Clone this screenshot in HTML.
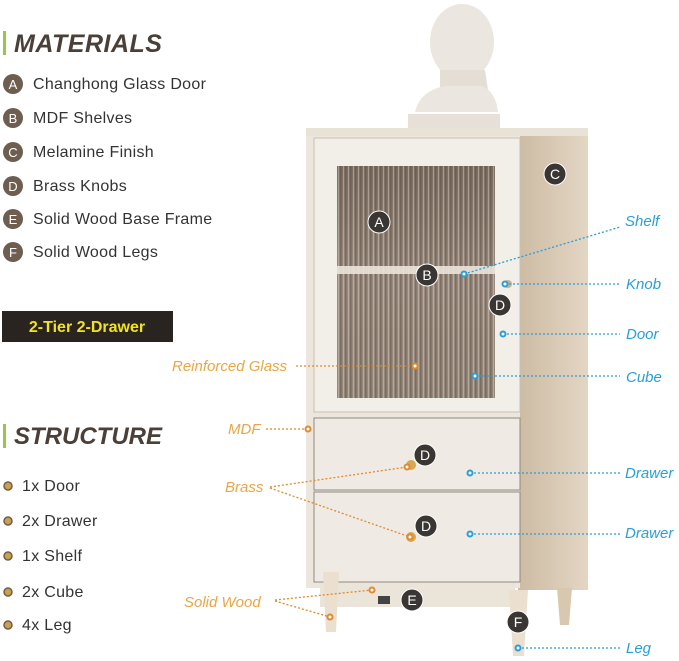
<!DOCTYPE html>
<html><head><meta charset="utf-8"><style>
body{margin:0;background:#fff;}
svg{display:block;font-family:"Liberation Sans","DejaVu Sans",sans-serif;}
</style></head><body>
<svg width="679" height="661" viewBox="0 0 679 661" xmlns="http://www.w3.org/2000/svg">
<defs>
<linearGradient id="side" x1="0" x2="1"><stop offset="0" stop-color="#cdbba3"/><stop offset="1" stop-color="#e3d6c4"/></linearGradient>
<linearGradient id="glass" x1="0" x2="0" y1="0" y2="1"><stop offset="0" stop-color="#7d6e62"/><stop offset="0.5" stop-color="#9a8b7e"/><stop offset="1" stop-color="#958779"/></linearGradient>
<pattern id="flute" width="5" height="10" patternUnits="userSpaceOnUse"><rect x="0" width="1.6" height="10" fill="#4f443c" opacity="0.4"/><rect x="3" width="1" height="10" fill="#e0d8cd" opacity="0.4"/></pattern>
</defs>
<rect x="3" y="31" width="3" height="24" fill="#9cc447"/>
<text x="14" y="52" font-size="25" font-weight="bold" font-style="italic" fill="#4a4038" letter-spacing="0.5">MATERIALS</text>
<g fill="#6e5e50"><circle cx="13" cy="84" r="10"/><circle cx="13" cy="118" r="10"/><circle cx="13" cy="152" r="10"/><circle cx="13" cy="186" r="10"/><circle cx="13" cy="219" r="10"/><circle cx="13" cy="252" r="10"/></g>
<g fill="#fff" font-size="13" text-anchor="middle"><text x="13" y="89">A</text><text x="13" y="123">B</text><text x="13" y="157">C</text><text x="13" y="191">D</text><text x="13" y="224">E</text><text x="13" y="257">F</text></g>
<g font-size="16" fill="#333" letter-spacing="0.3">
<text x="33" y="89">Changhong Glass Door</text>
<text x="33" y="123">MDF Shelves</text>
<text x="33" y="157">Melamine Finish</text>
<text x="33" y="191">Brass Knobs</text>
<text x="33" y="224">Solid Wood Base Frame</text>
<text x="33" y="257">Solid Wood Legs</text>
</g>
<rect x="2" y="311" width="171" height="31" fill="#2a2420"/>
<text x="87" y="332" font-size="16" font-weight="bold" fill="#f2e31c" text-anchor="middle">2-Tier 2-Drawer</text>
<rect x="3" y="424" width="3" height="24" fill="#9cc447"/>
<text x="14" y="444" font-size="24" font-weight="bold" font-style="italic" fill="#4a4038">STRUCTURE</text>
<g fill="#c9a24a" stroke="#6e5e50" stroke-width="1.5"><circle cx="8" cy="486" r="4"/><circle cx="8" cy="521" r="4"/><circle cx="8" cy="556" r="4"/><circle cx="8" cy="592" r="4"/><circle cx="8" cy="625" r="4"/></g>
<g font-size="16" fill="#333" letter-spacing="0.3"><text x="22" y="491">1x Door</text><text x="22" y="526">2x Drawer</text><text x="22" y="561">1x Shelf</text><text x="22" y="597">2x Cube</text><text x="22" y="630">4x Leg</text></g>

<ellipse cx="462" cy="42" rx="32" ry="38" fill="#ebe6df"/>
<path d="M440 70 L485 70 L488 90 L440 92Z" fill="#e4ded5"/>
<path d="M446 86 Q420 90 415 112 L498 112 Q496 92 482 86Z" fill="#ebe6df"/>
<rect x="408" y="114" width="92" height="18" fill="#e6e0d8"/>
<rect x="518" y="128" width="70" height="462" fill="url(#side)"/>
<rect x="306" y="128" width="214" height="460" fill="#ece6dc"/>
<rect x="306" y="128" width="282" height="8" fill="#e9e2d6"/>
<rect x="314" y="138" width="206" height="274" fill="#f2eee8" stroke="#c9c0b4"/>
<rect x="337" y="166" width="158" height="232" fill="url(#glass)"/>
<rect x="337" y="166" width="158" height="232" fill="url(#flute)"/>
<rect x="337" y="266" width="158" height="8" fill="#ebe4da" opacity="0.9"/>
<rect x="314" y="418" width="206" height="72" fill="#efebe4" stroke="#8f8880"/>
<rect x="314" y="492" width="206" height="90" fill="#efebe4" stroke="#8f8880"/>
<rect x="320" y="583" width="195" height="24" fill="#ebe4d8"/>
<rect x="378" y="596" width="12" height="8" fill="#444"/>
<path d="M557 588 L572 588 L569 625 L560 625Z" fill="#d8c8b0"/>
<path d="M323 572 L339 572 L336 632 L326 632Z" fill="#ebe0cf"/>
<path d="M509 590 L528 590 L524 656 L513 656Z" fill="#ebe0cf"/>
<circle cx="508" cy="284" r="4" fill="#c9b38a"/>
<circle cx="411" cy="465" r="5" fill="#d6a850"/>
<circle cx="411" cy="537" r="5" fill="#d6a850"/>

<g stroke="#2a9fd6" stroke-width="1.3" stroke-dasharray="2,2" fill="none">
<path d="M464 274 L620 227"/><path d="M505 284 L620 284"/><path d="M503 334 L620 334"/><path d="M475 376 L620 376"/><path d="M470 473 L620 473"/><path d="M470 534 L620 534"/><path d="M518 648 L620 648"/>
</g>
<g fill="#fff" stroke="#2a9fd6" stroke-width="2"><circle cx="464" cy="274" r="2.5"/><circle cx="505" cy="284" r="2.5"/><circle cx="503" cy="334" r="2.5"/><circle cx="475" cy="376" r="2.5"/><circle cx="470" cy="473" r="2.5"/><circle cx="470" cy="534" r="2.5"/><circle cx="518" cy="648" r="2.5"/></g>
<g font-size="15" font-style="italic" fill="#2a9fd6"><text x="625" y="226">Shelf</text><text x="626" y="289">Knob</text><text x="626" y="339">Door</text><text x="626" y="382">Cube</text><text x="625" y="478">Drawer</text><text x="625" y="538">Drawer</text><text x="626" y="653">Leg</text></g>
<g stroke="#e08a2c" stroke-width="1.3" stroke-dasharray="2,2" fill="none">
<path d="M296 366 L415 366"/><path d="M266 429 L308 429"/><path d="M270 487 L407 467"/><path d="M270 488 L410 537"/><path d="M275 600 L372 590"/><path d="M275 601 L330 617"/>
</g>
<g fill="#fff" stroke="#e08a2c" stroke-width="2"><circle cx="415" cy="366" r="2.5"/><circle cx="308" cy="429" r="2.5"/><circle cx="407" cy="467" r="2.5"/><circle cx="410" cy="537" r="2.5"/><circle cx="372" cy="590" r="2.5"/><circle cx="330" cy="617" r="2.5"/></g>
<g font-size="15" font-style="italic" fill="#e9a646"><text x="172" y="371">Reinforced Glass</text><text x="228" y="434">MDF</text><text x="225" y="492">Brass</text><text x="184" y="607">Solid Wood</text></g>
<g fill="#3a3633" stroke="#fff" stroke-width="1"><circle cx="379" cy="222" r="11"/><circle cx="427" cy="275" r="11"/><circle cx="555" cy="174" r="11"/><circle cx="500" cy="305" r="11"/><circle cx="425" cy="455" r="11"/><circle cx="426" cy="526" r="11"/><circle cx="412" cy="600" r="11"/><circle cx="518" cy="622" r="11"/></g>
<g fill="#fff" font-size="14" text-anchor="middle"><text x="379" y="227">A</text><text x="427" y="280">B</text><text x="555" y="179">C</text><text x="500" y="310">D</text><text x="425" y="460">D</text><text x="426" y="531">D</text><text x="412" y="605">E</text><text x="518" y="627">F</text></g>
</svg>
</body></html>
